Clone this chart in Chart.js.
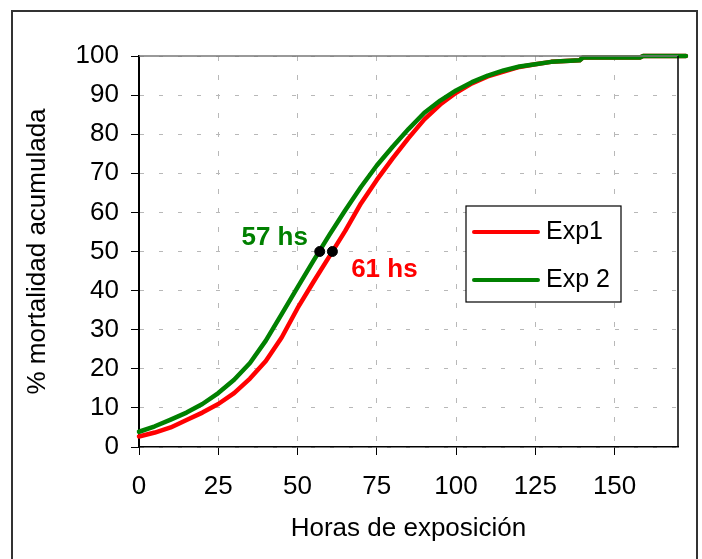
<!DOCTYPE html>
<html>

<head>
  <title>Mortalidad acumulada</title>
  <script src="https://cdn.jsdelivr.net/npm/chart.js@4/dist/chart.umd.min.js"></script>
  <style>
    body { margin: 0; background: #fff; }
  </style>
</head>

<body>
  <canvas id="mortChart" width="702" height="559"></canvas>

  <script>
    // hours of exposure (x) and cumulative mortality (%)
    const horas = [0, 5, 10, 15, 20, 25, 30, 35, 40, 45, 50, 55, 60, 65, 70, 75, 80, 85, 90, 95, 100, 105, 110, 115, 120, 125, 130, 139, 140, 158, 159, 172.5];
    const exp1 = [2.7, 3.7, 5.0, 6.9, 8.8, 11.0, 13.8, 17.5, 22.0, 28.0, 35.5, 42.2, 48.7, 55.2, 62.3, 68.3, 73.8, 79.0, 83.8, 87.6, 90.6, 93.0, 94.8, 96.0, 97.2, 97.9, 98.5, 98.9, 99.6, 99.6, 100, 100];
    const exp2 = [3.9, 5.3, 7.0, 8.8, 11.0, 13.8, 17.2, 21.5, 27.2, 34.0, 40.8, 47.6, 54.2, 60.5, 66.5, 72.0, 76.8, 81.3, 85.5, 88.6, 91.2, 93.3, 95.0, 96.3, 97.3, 97.9, 98.5, 98.9, 99.6, 99.6, 100, 100];

    const seriesNames = ['Exp1', 'Exp 2'];
    const seriesColors = ['#ff0000', '#008000'];

    // hours at 50% mortality
    const t50 = [61, 57];
    const t50Labels = ['61 hs', '57 hs'];

    const xTicks = [0, 25, 50, 75, 100, 125, 150];
    const yTicks = [0, 10, 20, 30, 40, 50, 60, 70, 80, 90, 100];

    const FONT = "'Liberation Sans', Arial, sans-serif";

    const toPoints = (ys) => ys.map((y, i) => ({ x: horas[i], y: y }));

    // frame, plot border, legend box and the 50% labels
    const extras = {
      id: 'extras',
      afterDatasetsDraw(chart) {
        const { ctx, chartArea: a, scales } = chart;
        ctx.save();

        // outer frame
        ctx.strokeStyle = '#333';
        ctx.lineWidth = 2;
        ctx.beginPath();
        ctx.moveTo(12, 600);
        ctx.lineTo(12, 11);
        ctx.lineTo(697, 11);
        ctx.lineTo(697, 600);
        ctx.stroke();

        // plot area top / right edges
        ctx.lineWidth = 1.5;
        ctx.strokeStyle = '#777';
        ctx.beginPath();
        ctx.moveTo(a.left, a.top);
        ctx.lineTo(a.right, a.top);
        ctx.stroke();
        ctx.strokeStyle = '#000';
        ctx.beginPath();
        ctx.moveTo(a.right, a.top);
        ctx.lineTo(a.right, a.bottom);
        ctx.stroke();

        // labels beside the 50% dots
        ctx.font = 'bold 26px ' + FONT;
        ctx.textAlign = 'center';
        ctx.textBaseline = 'middle';
        const off = [[52, 18], [-45, -14]];
        t50.forEach((h, i) => {
          const px = scales.x.getPixelForValue(h);
          const py = scales.y.getPixelForValue(50);
          ctx.fillStyle = seriesColors[i];
          ctx.fillText(t50Labels[i], px + off[i][0], py + off[i][1]);
        });

        // legend
        const box = { x: 466, y: 206, w: 155, h: 96 };
        ctx.fillStyle = '#fff';
        ctx.fillRect(box.x, box.y, box.w, box.h);
        ctx.strokeStyle = '#000';
        ctx.lineWidth = 1.2;
        ctx.strokeRect(box.x, box.y, box.w, box.h);
        ctx.font = '25px ' + FONT;
        ctx.textAlign = 'left';
        ctx.lineCap = 'round';
        seriesNames.forEach((name, i) => {
          const ly = box.y + 26 + i * 48;
          ctx.strokeStyle = seriesColors[i];
          ctx.lineWidth = 4;
          ctx.beginPath();
          ctx.moveTo(box.x + 8, ly);
          ctx.lineTo(box.x + 72, ly);
          ctx.stroke();
          ctx.fillStyle = '#000';
          ctx.fillText(name, box.x + 80, ly);
        });

        ctx.restore();
      }
    };

    const ctx = document.getElementById('mortChart').getContext('2d');
    const mortChart = new Chart(ctx, {
      type: 'line',
      data: {
        datasets: [
          {
            label: seriesNames[0],
            data: toPoints(exp1),
            borderColor: seriesColors[0],
            borderWidth: 4.5,
            borderCapStyle: 'round',
            borderJoinStyle: 'round',
            pointRadius: 0,
            tension: 0,
            clip: false,
            order: 2,
          },
          {
            label: seriesNames[1],
            data: toPoints(exp2),
            borderColor: seriesColors[1],
            borderWidth: 4.5,
            borderCapStyle: 'round',
            borderJoinStyle: 'round',
            pointRadius: 0,
            tension: 0,
            clip: false,
            order: 1,
          },
          {
            label: 't50',
            data: t50.map(h => ({ x: h, y: 50 })),
            showLine: false,
            pointRadius: 5,
            pointBackgroundColor: '#000',
            pointBorderColor: '#000',
            clip: false,
            order: 0,
          },
        ],
      },
      options: {
        responsive: false,
        animation: false,
        events: [],
        layout: { padding: { left: 0, top: 56, right: 24, bottom: 0 } },
        plugins: {
          legend: { display: false },
          tooltip: { enabled: false },
        },
        scales: {
          x: {
            type: 'linear',
            min: 0,
            max: 170,
            afterBuildTicks: (scale) => { scale.ticks = xTicks.map(v => ({ value: v })); },
            afterFit: (scale) => { scale.height = 112; },
            ticks: {
              color: '#000',
              font: { family: FONT, size: 26 },
              padding: 16,
              maxRotation: 0,
            },
            grid: {
              color: '#b8b8b8',
              lineWidth: 1,
              tickColor: '#000',
              tickLength: 8,
              tickBorderDash: [],
            },
            border: { color: '#000', width: 1.5, dash: [5, 14] },
            title: {
              display: true,
              text: 'Horas de exposición',
              color: '#000',
              font: { family: FONT, size: 26 },
              padding: { top: 0, bottom: 15 },
            },
          },
          y: {
            min: 0,
            max: 100,
            afterBuildTicks: (scale) => { scale.ticks = yTicks.map(v => ({ value: v })); },
            afterFit: (scale) => { scale.width = 139; },
            ticks: {
              color: '#000',
              font: { family: FONT, size: 26 },
              padding: 12,
            },
            grid: {
              color: '#b8b8b8',
              lineWidth: 1,
              tickColor: '#000',
              tickLength: 8,
              tickBorderDash: [],
            },
            border: { color: '#000', width: 2, dash: [4, 15] },
            title: {
              display: true,
              text: '% mortalidad acumulada',
              color: '#000',
              font: { family: FONT, size: 26 },
              padding: { top: 22, bottom: 0 },
            },
          },
        },
      },
      plugins: [extras],
    });
  </script>
</body>

</html>
